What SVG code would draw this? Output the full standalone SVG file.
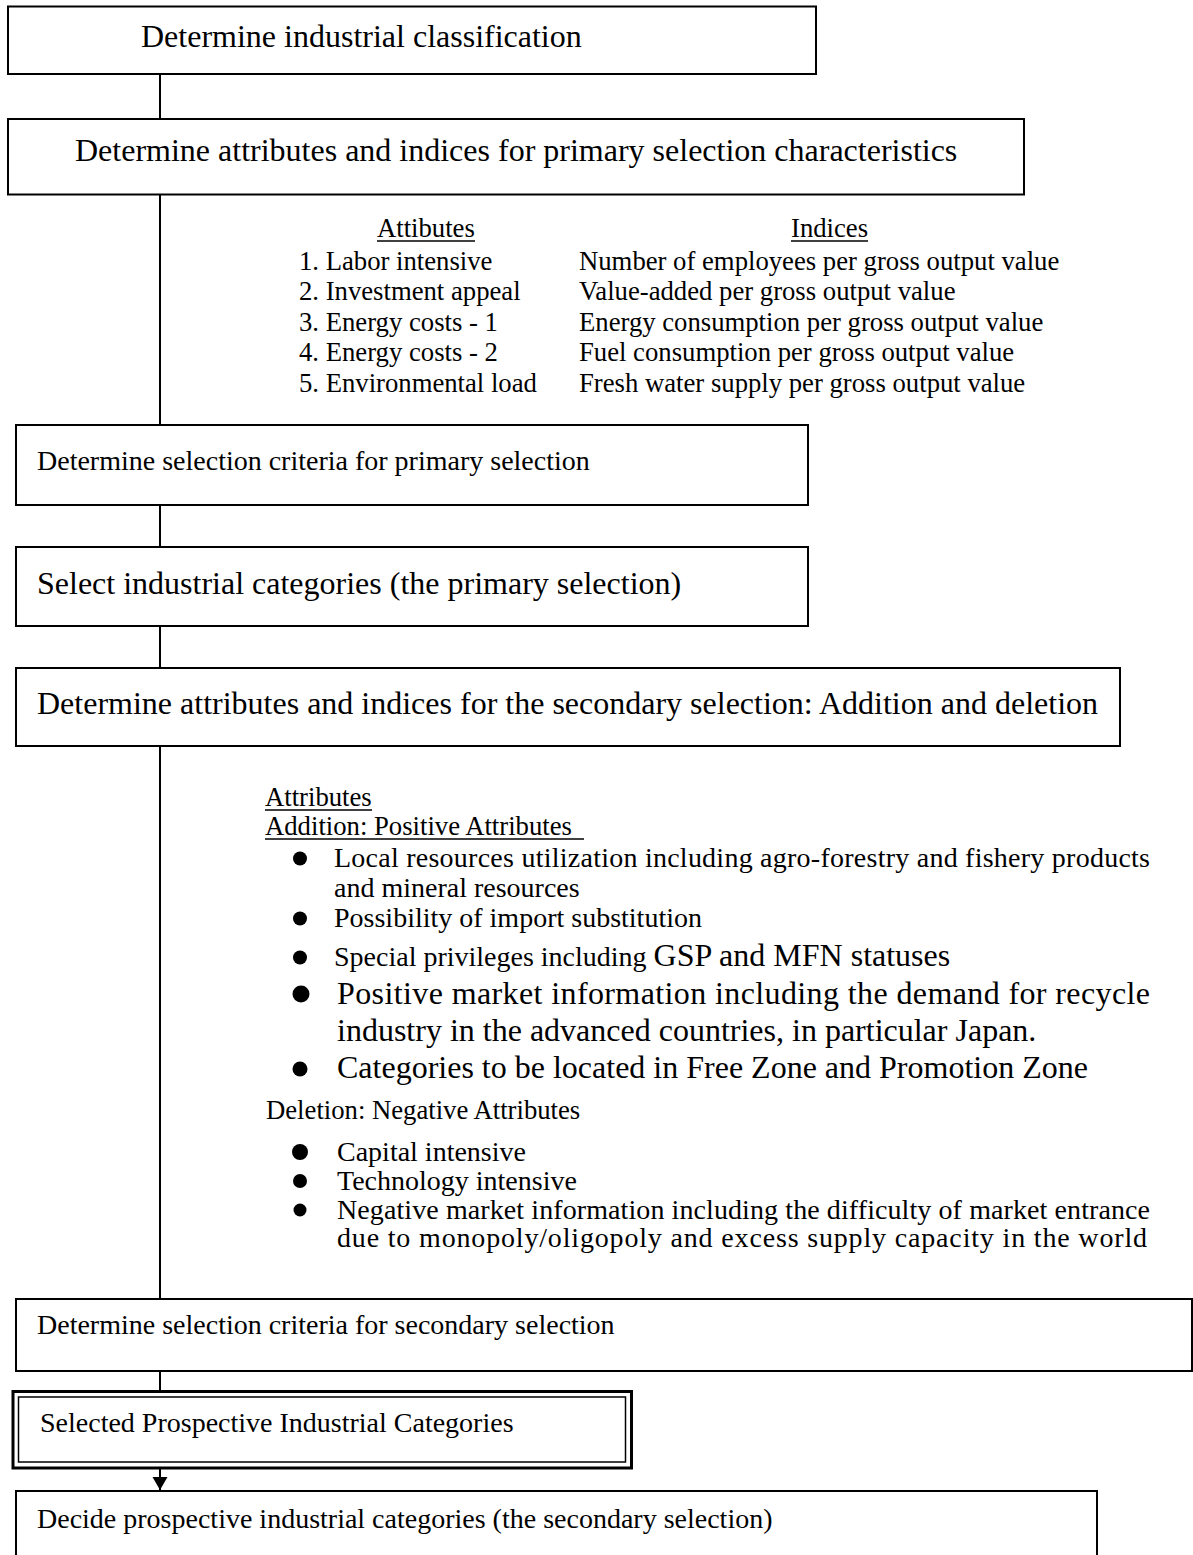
<svg xmlns="http://www.w3.org/2000/svg" width="1193" height="1555" viewBox="0 0 1193 1555">
  <style>
    .box { fill: #ffffff; stroke: #000000; stroke-width: 2; }
    .wire { stroke: #000000; stroke-width: 2; fill: none; }
    .t { font-family: "Liberation Serif", "Times New Roman", serif; fill: #000000; }
    .h32 { font-size: 32px; }
    .h28 { font-size: 28px; }
    .h27 { font-size: 26.7px; }
    .ul { stroke: #000000; stroke-width: 1.5; }
    .dot { fill: #000000; }
  </style>
  <defs>
    <marker id="arrow" markerUnits="userSpaceOnUse" markerWidth="16" markerHeight="16" refX="13" refY="7.5" orient="auto">
      <path d="M0,0 L13,7.5 L0,15 Z" fill="#000000"/>
    </marker>
  </defs>

  <rect x="0" y="0" width="1193" height="1555" fill="#ffffff"/>

  <!-- vertical spine joining the steps -->
  <g id="connectors">
    <line class="wire" x1="160" y1="74" x2="160" y2="119"/>
    <line class="wire" x1="160" y1="194" x2="160" y2="425"/>
    <line class="wire" x1="160" y1="505" x2="160" y2="547"/>
    <line class="wire" x1="160" y1="626" x2="160" y2="668"/>
    <line class="wire" x1="160" y1="746" x2="160" y2="1299"/>
    <line class="wire" x1="160" y1="1371" x2="160" y2="1391"/>
    <line class="wire" x1="160" y1="1468" x2="160" y2="1490" marker-end="url(#arrow)"/>
  </g>

  <g id="step-classification">
    <rect class="box" x="8" y="6.5" width="808" height="67.5"/>
    <text class="t h32" x="141" y="47">Determine industrial classification</text>
  </g>

  <g id="step-primary-attributes">
    <rect class="box" x="8" y="119" width="1016" height="75.5"/>
    <text class="t h32" x="75" y="161">Determine attributes and indices for primary selection characteristics</text>
  </g>

  <!-- attribute / index table for the primary selection -->
  <g id="primary-table" class="t h27">
    <text x="377" y="237">Attibutes</text>
    <line class="ul" x1="377" y1="241" x2="475" y2="241"/>
    <text x="791" y="237">Indices</text>
    <line class="ul" x1="791" y1="241" x2="868" y2="241"/>
    <text x="299" y="269.5">1. Labor intensive</text>
    <text x="299" y="300">2. Investment appeal</text>
    <text x="299" y="330.5">3. Energy costs - 1</text>
    <text x="299" y="361">4. Energy costs - 2</text>
    <text x="299" y="391.5">5. Environmental load</text>
    <text x="579" y="269.5">Number of employees per gross output value</text>
    <text x="579" y="300">Value-added per gross output value</text>
    <text x="579" y="330.5">Energy consumption per gross output value</text>
    <text x="579" y="361">Fuel consumption per gross output value</text>
    <text x="579" y="391.5">Fresh water supply per gross output value</text>
  </g>

  <g id="step-primary-criteria">
    <rect class="box" x="16" y="425" width="792" height="80"/>
    <text class="t h28" x="37" y="470">Determine selection criteria for primary selection</text>
  </g>

  <g id="step-primary-selection">
    <rect class="box" x="16" y="547" width="792" height="79"/>
    <text class="t h32" x="37" y="594">Select industrial categories (the primary selection)</text>
  </g>

  <g id="step-secondary-attributes">
    <rect class="box" x="16" y="668" width="1104" height="78"/>
    <text class="t h32" x="37" y="714">Determine attributes and indices for the secondary selection: Addition and deletion</text>
  </g>

  <!-- addition / deletion attribute lists for the secondary selection -->
  <g id="secondary-attributes" class="t">
    <text class="h27" x="265" y="806">Attributes</text>
    <line class="ul" x1="265" y1="810" x2="372" y2="810"/>
    <text class="h27" x="265" y="835">Addition: Positive Attributes</text>
    <line class="ul" x1="265" y1="839" x2="584" y2="839"/>

    <circle class="dot" cx="300" cy="858.5" r="7"/>
    <text class="h28" x="334" y="867" textLength="816" lengthAdjust="spacing">Local resources utilization including agro-forestry and fishery products</text>
    <text class="h28" x="334" y="897">and mineral resources</text>

    <circle class="dot" cx="300" cy="918.5" r="7"/>
    <text class="h28" x="334" y="927">Possibility of import substitution</text>

    <circle class="dot" cx="300" cy="957.5" r="7"/>
    <text x="334" y="966"><tspan class="h28">Special privileges including </tspan><tspan class="h32">GSP and MFN statuses</tspan></text>

    <circle class="dot" cx="301" cy="994" r="8.5"/>
    <text class="h32" x="337" y="1004" textLength="813" lengthAdjust="spacing">Positive market information including the demand for recycle</text>
    <text class="h32" x="337" y="1041">industry in the advanced countries, in particular Japan.</text>

    <circle class="dot" cx="300" cy="1069" r="7.5"/>
    <text class="h32" x="337" y="1078">Categories to be located in Free Zone and Promotion Zone</text>

    <text class="h27" x="266" y="1119">Deletion: Negative Attributes</text>

    <circle class="dot" cx="300" cy="1152" r="8"/>
    <text class="h28" x="337" y="1161">Capital intensive</text>

    <circle class="dot" cx="300" cy="1181" r="7"/>
    <text class="h28" x="337" y="1190">Technology intensive</text>

    <circle class="dot" cx="300" cy="1210" r="6.5"/>
    <text class="h28" x="337" y="1219" textLength="813" lengthAdjust="spacing">Negative market information including the difficulty of market entrance</text>
    <text class="h28" x="337" y="1247" textLength="810" lengthAdjust="spacing">due to monopoly/oligopoly and excess supply capacity in the world</text>
  </g>

  <g id="step-secondary-criteria">
    <rect class="box" x="16" y="1299" width="1176" height="72"/>
    <text class="t h28" x="37" y="1334">Determine selection criteria for secondary selection</text>
  </g>

  <g id="step-selected-categories">
    <rect x="13" y="1391.5" width="618.5" height="76.5" fill="#ffffff" stroke="#000000" stroke-width="3"/>
    <rect x="18.5" y="1397" width="607" height="65" fill="none" stroke="#000000" stroke-width="1.5"/>
    <text class="t h28" x="40" y="1432">Selected Prospective Industrial Categories</text>
  </g>

  <g id="step-secondary-selection">
    <rect class="box" x="16" y="1491" width="1081" height="80"/>
    <text class="t h28" x="37" y="1528">Decide prospective industrial categories (the secondary selection)</text>
  </g>
</svg>
